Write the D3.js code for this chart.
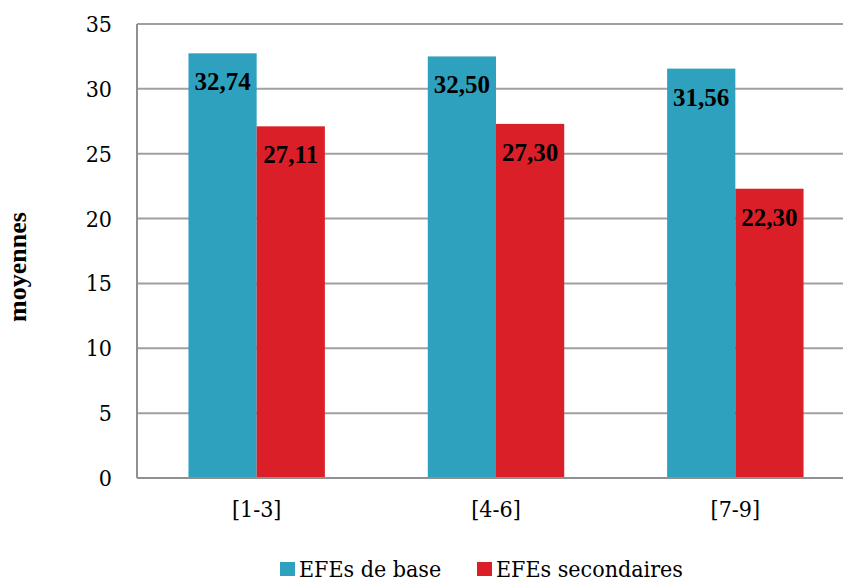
<!DOCTYPE html>
<html><head><meta charset="utf-8">
<script src="https://cdn.jsdelivr.net/npm/d3@7"></script>
<style>body{margin:0;background:#fff}svg{display:block}
svg text{font-family:"Liberation Serif",serif;}
svg text.reg{font-family:"DejaVu Serif",serif;font-stretch:condensed;}
</style>
</head><body>
<svg id="c" width="843" height="582"></svg>
<script>
const categories = ["[1-3]", "[4-6]", "[7-9]"];
const seriesNames = ["EFEs de base", "EFEs secondaires"];
const baseValues = [32.74, 32.50, 31.56];
const secondaryValues = [27.11, 27.30, 22.30];
const yTicks = [0, 5, 10, 15, 20, 25, 30, 35];
const colors = ["#2ea1be", "#db1f28"];

(function () {
const svg = d3.select("#c");
const pLeft = 137, pRight = 855, pTop = 24, pBottom = 478;

const y = d3.scaleLinear().domain([0, 35]).range([pBottom, pTop]);
const x = d3.scaleBand().domain(categories).range([pLeft, pRight]).paddingInner(0.43).paddingOuter(0.215);
const xs = d3.scaleBand().domain([0, 1]).range([0, x.bandwidth()]);

svg.append("g").selectAll("line").data(yTicks.filter(d => d > 0)).join("line")
  .attr("x1", pLeft).attr("x2", 843).attr("y1", d => y(d)).attr("y2", d => y(d))
  .attr("stroke", "#a0a0a0").attr("stroke-width", 2);

svg.append("line").attr("x1", pLeft).attr("x2", pLeft).attr("y1", pTop).attr("y2", pBottom)
  .attr("stroke", "#909090").attr("stroke-width", 2);

svg.append("g").selectAll("text").data(yTicks).join("text").attr("class", "reg")
  .attr("x", 112).attr("y", d => y(d) + 8).attr("text-anchor", "end")
  .attr("font-size", 23).attr("fill", "#000")
  .text(d => d);

const data = categories.map((c, i) => ({c, vals: [baseValues[i], secondaryValues[i]]}));

const g = svg.append("g").selectAll("g").data(data).join("g")
  .attr("transform", d => `translate(${x(d.c)},0)`);
g.selectAll("rect").data(d => d.vals.map((v, k) => ({v, k}))).join("rect")
  .attr("x", d => xs(d.k)).attr("width", xs.bandwidth())
  .attr("y", d => y(d.v)).attr("height", d => pBottom - y(d.v))
  .attr("fill", d => colors[d.k]);
g.selectAll("text").data(d => d.vals.map((v, k) => ({v, k}))).join("text")
  .attr("x", d => xs(d.k) + xs.bandwidth() / 2).attr("y", d => y(d.v) + 37)
  .attr("text-anchor", "middle").attr("font-weight", "bold")
  .attr("font-size", 25).attr("fill", "#000")
  .text(d => d.v.toFixed(2).replace(".", ","));

svg.append("line").attr("x1", pLeft).attr("x2", 843).attr("y1", pBottom).attr("y2", pBottom)
  .attr("stroke", "#909090").attr("stroke-width", 2);

svg.append("g").selectAll("text").data(categories).join("text").attr("class", "reg")
  .attr("x", d => x(d) + x.bandwidth() / 2).attr("y", 517).attr("text-anchor", "middle")
  .attr("font-size", 23).attr("fill", "#000").text(d => d);

svg.append("text").attr("transform", "translate(26,267) rotate(-90)")
  .attr("text-anchor", "middle").attr("font-weight", "bold")
  .attr("font-size", 26).attr("fill", "#000").text("moyennes");

const legX = [280, 477];
const leg = svg.append("g").selectAll("g").data(seriesNames).join("g")
  .attr("transform", (d, i) => `translate(${legX[i]},562)`);
leg.append("rect").attr("width", 15).attr("height", 14).attr("fill", (d, i) => colors[i]);
leg.append("text").attr("class", "reg").attr("x", 19).attr("y", 15).attr("font-size", 23)
  .attr("fill", "#000").text(d => d);
})();
</script>
</body></html>
